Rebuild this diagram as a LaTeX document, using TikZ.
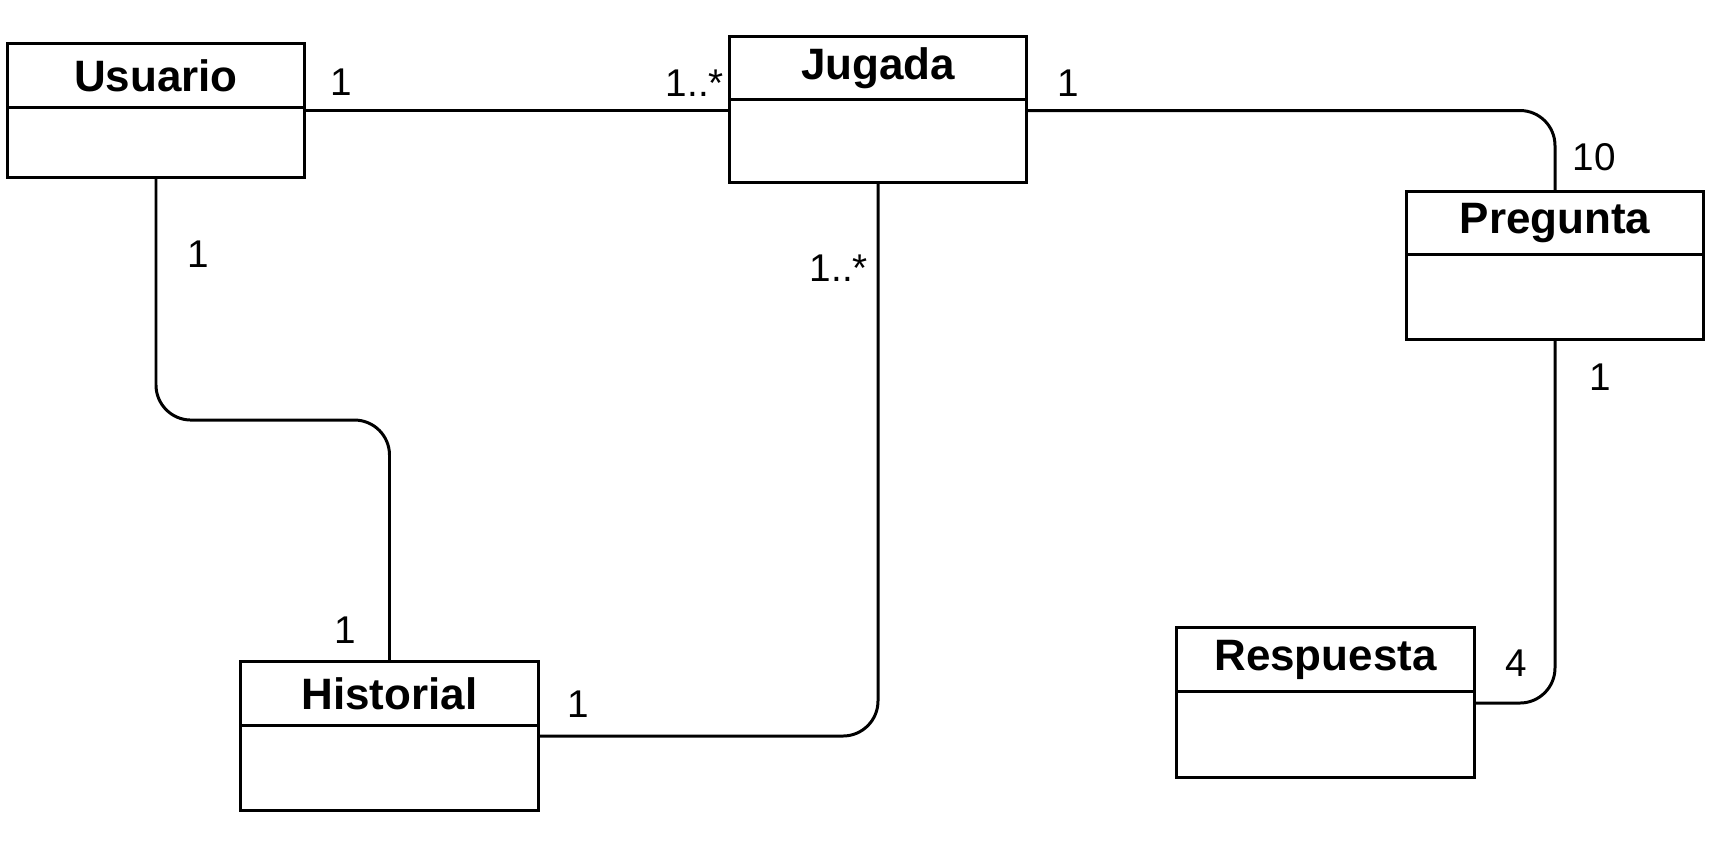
\documentclass[tikz,border=0pt]{standalone}
\usepackage{fontspec}
\setmainfont{Liberation Sans}
\usepackage{tikz}
\usetikzlibrary{positioning,calc}

\begin{document}
\begin{tikzpicture}[x=0.01cm,y=-0.01cm,line width=0.85pt,
        cab/.style={draw,rectangle,outer sep=0pt,inner sep=0pt,minimum width=2.97cm,minimum height=0.63cm,font=\bfseries\fontsize{12.5}{15}\selectfont},
        cuerpo/.style={draw,rectangle,outer sep=0pt,inner sep=0pt,minimum width=2.97cm},
        mult/.style={inner sep=0pt,font=\fontsize{11}{13}\selectfont}]
                \useasboundingbox (0,0) rectangle (1711,846);
                % clases
                \node [cab] (usuario) at (156,75.5) {Usuario};
                \node [cuerpo,minimum height=0.70cm,below=0pt of usuario] (usuario-c) {};
                \node [cab] (jugada) at (878,68) {Jugada};
                \node [cuerpo,minimum height=0.83cm,below=0pt of jugada] (jugada-c) {};
                \node [cab] (pregunta) at (1555,223) {Pregunta};
                \node [cuerpo,minimum height=0.85cm,below=0pt of pregunta] (pregunta-c) {};
                \node [cab] (historial) at (389.5,693.5) {Historial};
                \node [cuerpo,minimum height=0.85cm,below=0pt of historial] (historial-c) {};
                \node [cab] (respuesta) at (1325.5,659.5) {Respuesta};
                \node [cuerpo,minimum height=0.86cm,below=0pt of respuesta] (respuesta-c) {};
                % puntos de enganche
                \coordinate (j-in) at ([yshift=-0.11cm]jugada-c.north west);
                \coordinate (h-out) at ([yshift=-0.11cm]historial-c.north east);
                \coordinate (r-in) at ([yshift=-0.12cm]respuesta-c.north east);
                % asociaciones
                \draw (usuario-c.east |- j-in) -- (j-in);
                \draw [rounded corners=0.35cm] (j-in -| jugada-c.east) -| (pregunta.north);
                \draw [rounded corners=0.35cm] (usuario-c.south) -- ++(0,243) -| (historial.north);
                \draw [rounded corners=0.35cm] (h-out) -| (jugada-c.south);
                \draw [rounded corners=0.35cm] (pregunta-c.south) |- (r-in);
                % multiplicidades
                \node [mult] (m-uj) at (341,82) {1};
                \node [mult] (m-ju) at (695,83) {1..*};
                \node [mult] (m-jp) at (1068,83) {1};
                \node [mult] (m-pj) at (1594,157) {10};
                \node [mult] (m-pr) at (1600,377) {1};
                \node [mult] (m-rp) at (1516,663) {4};
                \node [mult] (m-uh) at (198,254) {1};
                \node [mult] (m-hu) at (345,630) {1};
                \node [mult] (m-jh) at (839,268) {1..*};
                \node [mult] (m-hj) at (578,704) {1};
\end{tikzpicture}
\end{document}
